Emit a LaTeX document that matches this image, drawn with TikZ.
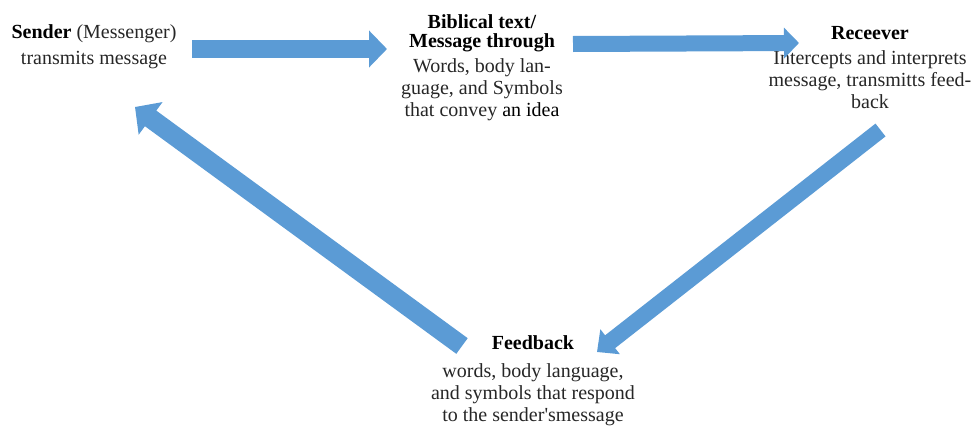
\documentclass[tikz,border=0pt]{standalone}
\usepackage{fontspec}
\setmainfont{Liberation Serif}[Ligatures=TeXOff]
\usetikzlibrary{arrows.meta}
\definecolor{arrowblue}{HTML}{5B9BD5}
\begin{document}
\begin{tikzpicture}[
    x=0.75pt, y=-0.75pt,
    txt/.style={anchor=north, align=center, inner sep=0pt, font=\fontsize{15}{16.5}\selectfont, text=black!85},
    blockarrow/.style={draw=arrowblue, line width=#1},
]
\useasboundingbox (0,0) rectangle (975,425);

\node[txt] (sender) at (94,24) {\textcolor{black}{\textbf{Sender}} (Messenger)\\[3pt] transmits message};
\node[txt] (bible) at (482,14) {\textcolor{black}{\textbf{Biblical text/}}\\[-2pt] \textcolor{black}{\textbf{Message through}}\\[2pt] Words, body lan-\\ guage, and Symbols\\ that convey \textcolor{black}{an idea}};
\node[txt] (receiver) at (870,26) {\textcolor{black}{\textbf{Receever}}\\[2pt] Intercepts and interprets\\ message, transmitts feed-\\ back};
\node[txt] (feedback) at (533,335) {\textcolor{black}{\textbf{Feedback}}\\[5pt] words, body language,\\ and symbols that respond\\ to the sender'smessage};

% arrow ends
\coordinate (s out) at (192,49);
\coordinate (b in) at (387,49);
\coordinate (b out) at (573,44);
\coordinate (r in) at (799,43);
\coordinate (r out) at (880.5,130);
\coordinate (f in) at (597,352);
\coordinate (f out) at (462,346);
\coordinate (s in) at (135,107);

\draw[blockarrow=13.5pt, -{Triangle[length=13.5pt, width=27pt]}] (s out) -- (b in);
\draw[blockarrow=12pt, -{Triangle[length=11.25pt, width=22.5pt]}] (b out) -- (r in);
\draw[blockarrow=12.2pt, -{Triangle[length=12.5pt, width=23pt]}] (r out) -- (f in);
\draw[blockarrow=14.5pt, -{Triangle[length=14.5pt, width=29.5pt]}] (f out) -- (s in);
\end{tikzpicture}
\end{document}
